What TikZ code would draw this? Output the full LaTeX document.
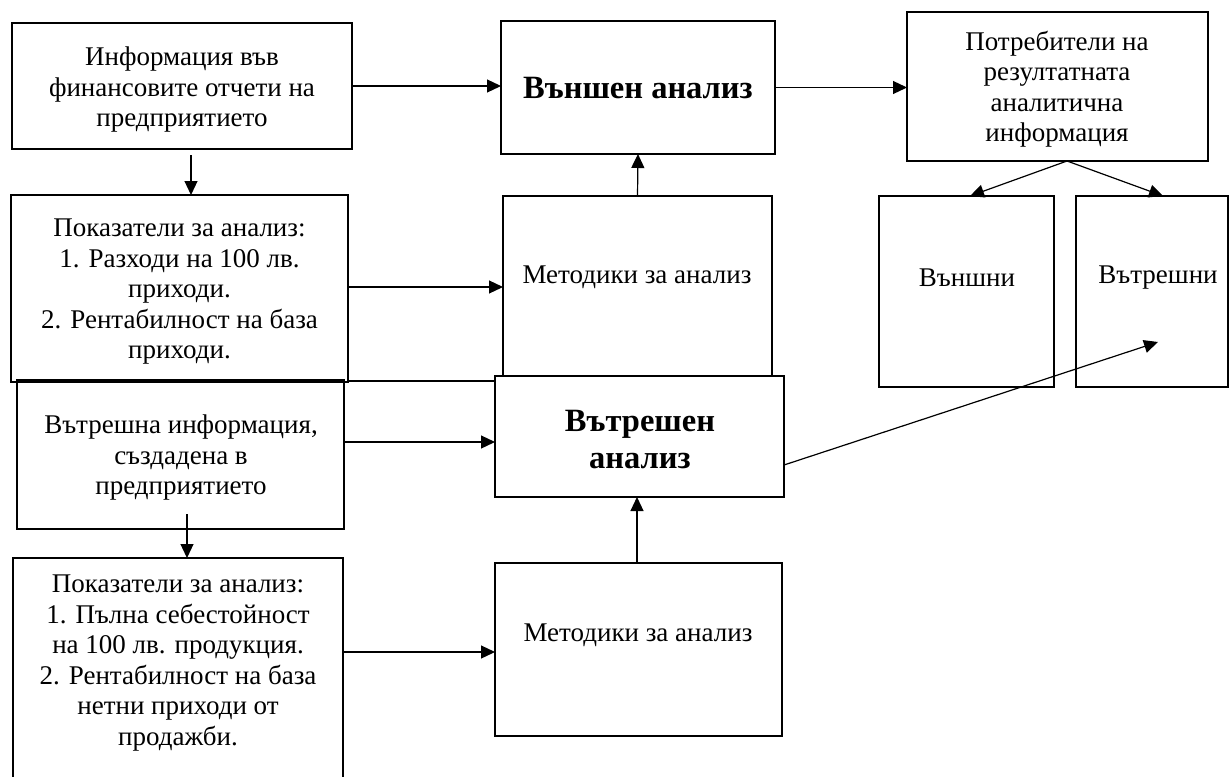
\documentclass[tikz,border=0pt]{standalone}
\usepackage{fontspec}
\setmainfont{Liberation Serif}
\usetikzlibrary{arrows.meta}
\begin{document}
\begin{tikzpicture}[x=1pt,y=-1pt,
  box/.style={draw,line width=1.7pt,rectangle,inner sep=0pt,outer sep=0pt},
  txt/.style={align=center,inner sep=0pt,font=\fontsize{27}{30.5}\selectfont},
  btxt/.style={align=center,inner sep=0pt,font=\fontsize{32.5}{37}\selectfont\bfseries},
  conn/.style={line width=1.2pt},
  arr/.style={conn,-{Triangle[length=14pt,width=13pt]}}]
\useasboundingbox (0,0) rectangle (1230,776);
% boxes
\node[box,minimum width=340pt,minimum height=126pt] (A) at (182,86) {};
\node[box,minimum width=337pt,minimum height=187pt] (B) at (179.5,288.5) {};
\node[box,minimum width=327pt,minimum height=149pt] (C) at (180.5,454.5) {};
\node[box,minimum width=330pt,minimum height=232pt] (D) at (178,674) {};
\node[box,minimum width=274pt,minimum height=133pt] (E) at (638,87.5) {};
\node[box,minimum width=301pt,minimum height=149pt] (F) at (1057.5,86.5) {};
\node[box,minimum width=269pt,minimum height=180pt] (G) at (637.5,286) {};
\node[box,minimum width=289pt,minimum height=121pt] (H) at (639.5,436.5) {};
\node[box,minimum width=175pt,minimum height=191pt] (I) at (966.5,291.5) {};
\node[box,minimum width=152pt,minimum height=191pt] (J) at (1152,291.5) {};
\node[box,minimum width=287pt,minimum height=173pt] (K) at (638.5,649.5) {};
% texts
\node[txt] (At) at (182,90) {Информация във\\финансовите отчети на\\предприятието};
\node[txt] (Bt) at (179.5,292) {Показатели за анализ:\\1. Разходи на 100 лв.\\приходи.\\2. Рентабилност на база\\приходи.};
\node[txt] (Ct) at (181,457.5) {Вътрешна информация,\\създадена в\\предприятието};
\node[txt] (Dt) at (178,663) {Показатели за анализ:\\1. Пълна себестойност\\на 100 лв. продукция.\\2. Рентабилност на база\\нетни приходи от\\продажби.};
\node[btxt] (Et) at (638,88) {Външен анализ};
\node[txt] (Ft) at (1057,89) {Потребители на\\резултатната\\аналитична\\информация};
\node[txt] (Gt) at (637,277) {Методики за анализ};
\node[btxt] (Ht) at (640,440) {Вътрешен\\анализ};
\node[txt] (It) at (967,278) {Външни};
\node[txt] (Jt) at (1158,278) {Вътрешни};
\node[txt] (Kt) at (638,635) {Методики за анализ};
\coordinate (jtip) at (1158,342);
% connectors
\draw[arr] (A.east) -- (A.east -| E.west);
\draw[arr] (E.east) -- (E.east -| F.west);
\draw[arr] ([xshift=9pt,yshift=-6pt]A.south) -- ([xshift=11.5pt]B.north);
\draw[arr] ([yshift=1.5pt]B.east) -- ([yshift=-1pt]G.west);
\draw[arr] (G.north) -- (E.south);
\draw[conn] ([yshift=1pt]B.south east) -- ([yshift=-5pt]H.north west);
\draw[arr] ([yshift=12.5pt]C.east) -- ([yshift=-5.5pt]H.west);
\draw[arr] ([xshift=6.5pt,yshift=15pt]C.south) -- ([xshift=9pt]D.north);
\draw[arr] ([yshift=22pt]D.east) -- ([yshift=-2.5pt]K.west);
\draw[arr] ([xshift=-1.5pt]K.north) -- ([xshift=-2.5pt]H.south);
\draw[arr] ([yshift=-28.5pt]H.east) -- (jtip);
\draw[arr] ([xshift=9.5pt]F.south) -- ([xshift=3.5pt]I.north);
\draw[arr] ([xshift=9.5pt]F.south) -- ([xshift=11pt]J.north);
\end{tikzpicture}
\end{document}
